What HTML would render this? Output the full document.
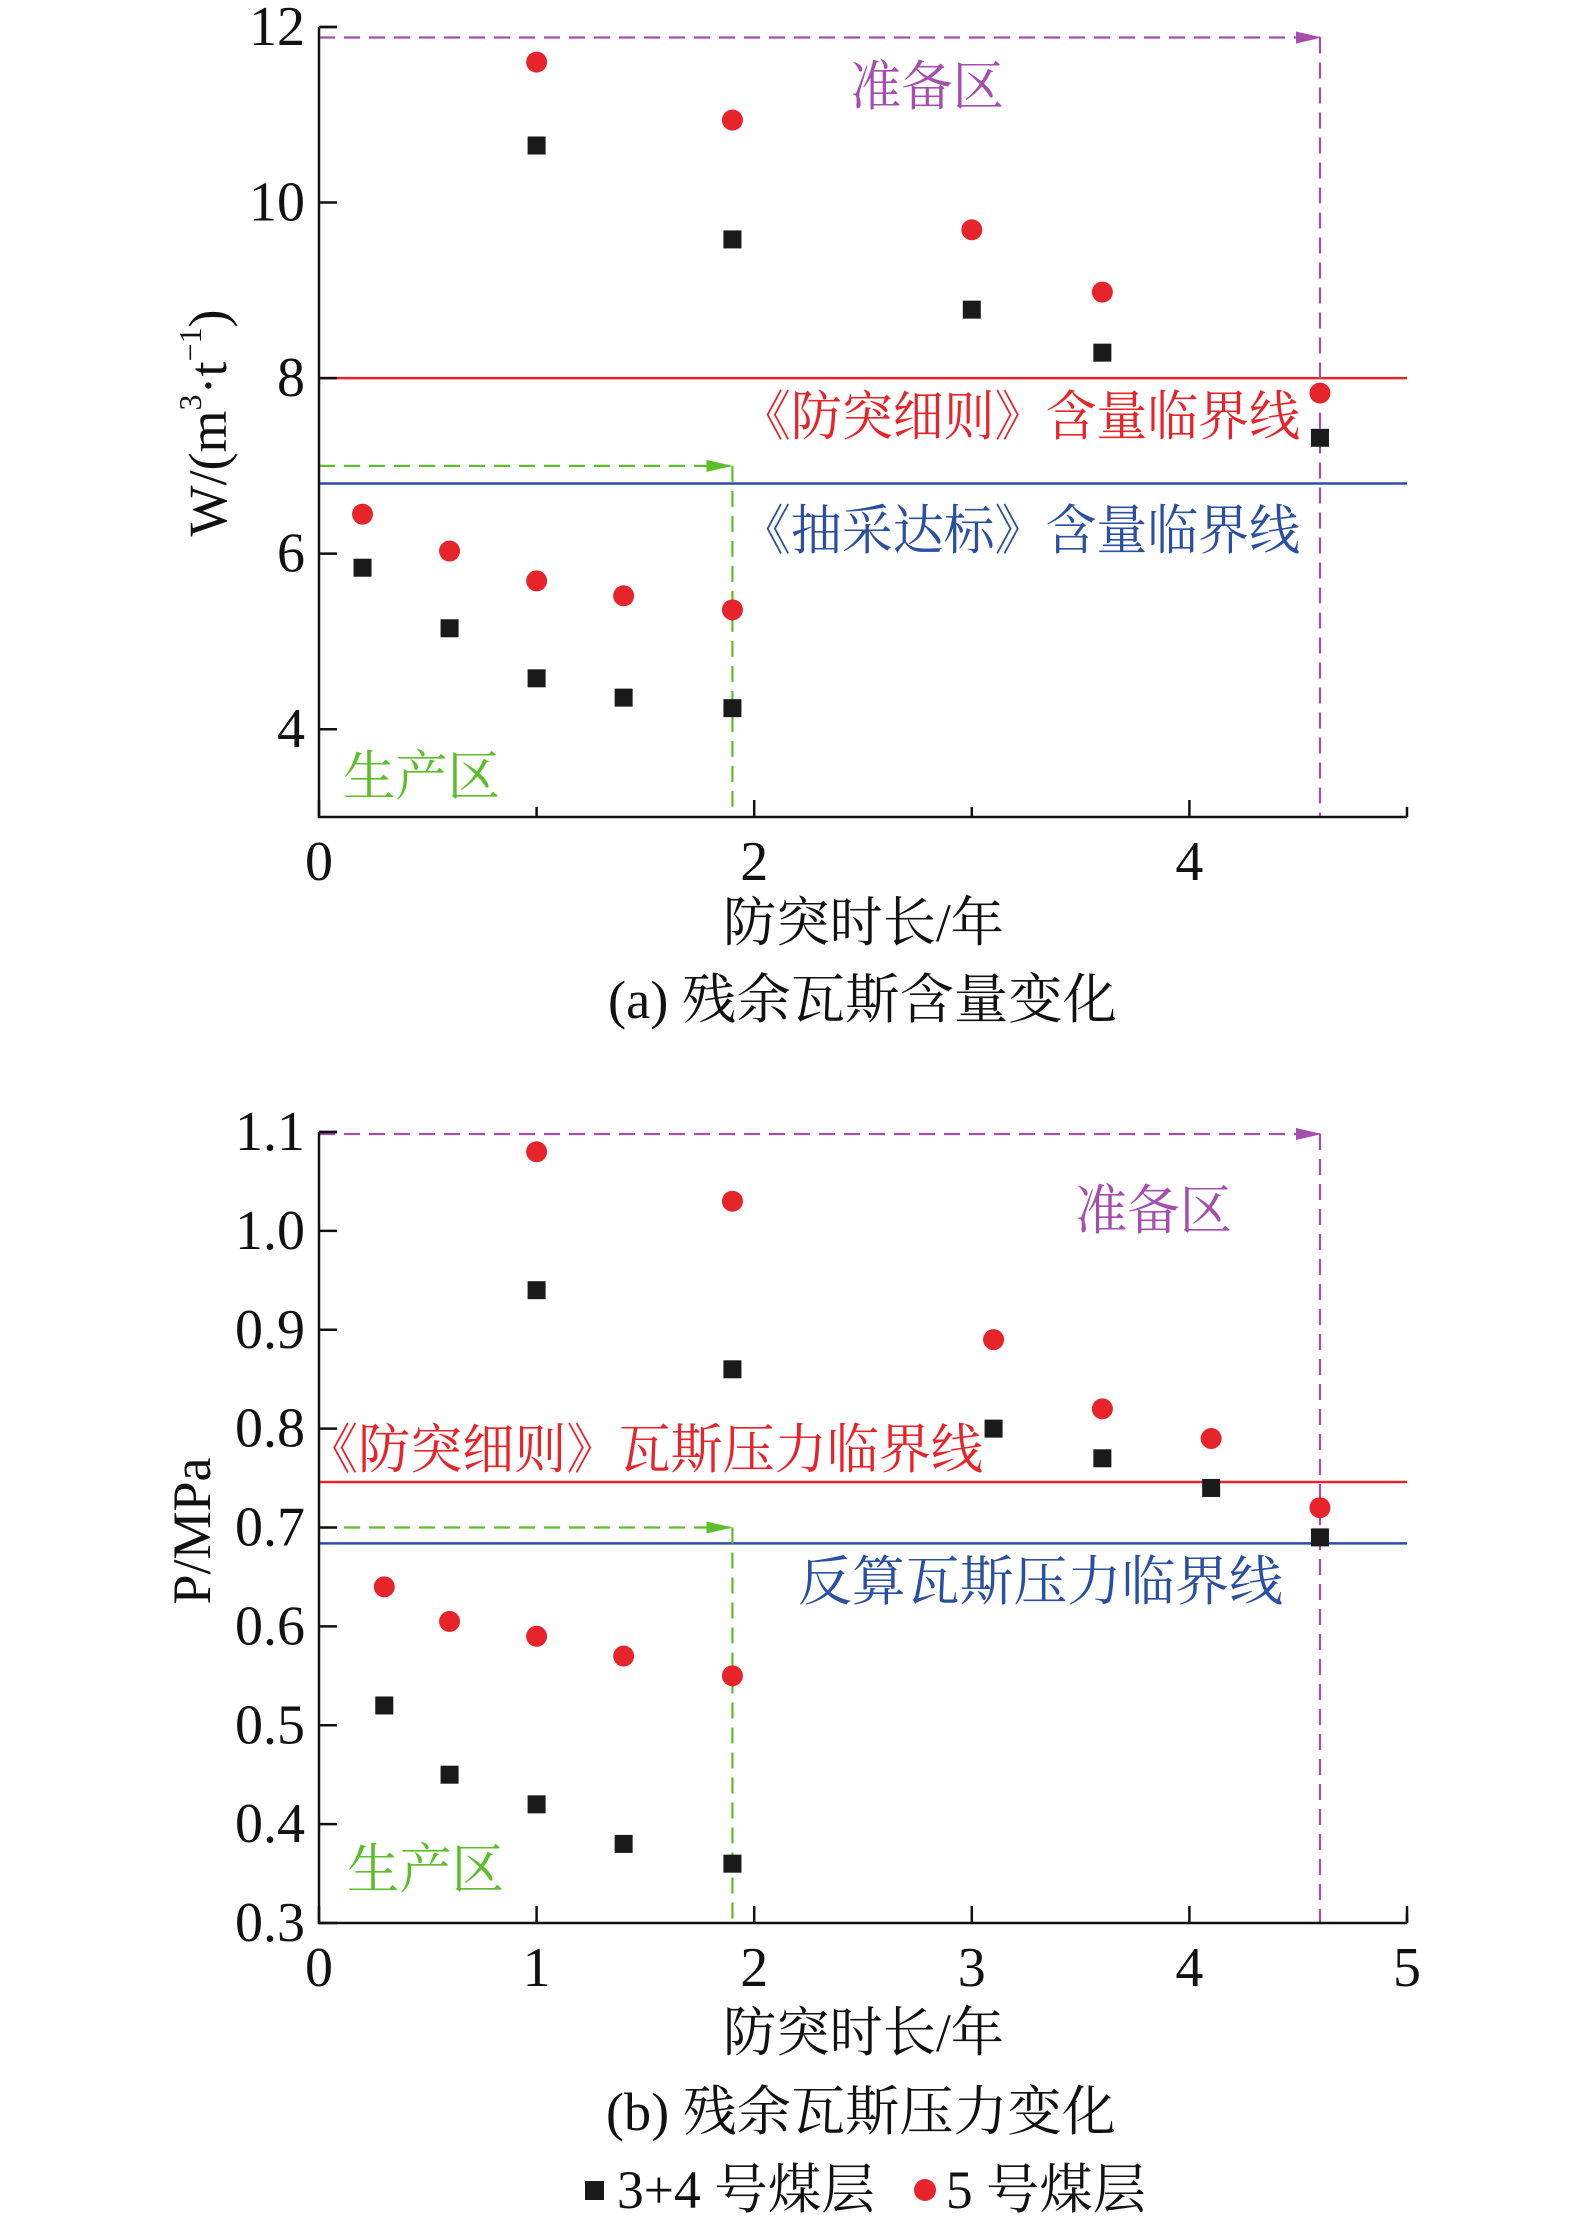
<!DOCTYPE html>
<html><head><meta charset="utf-8">
<style>
html,body{margin:0;padding:0;background:#fff;}
svg{display:block;}
text{font-family:"Liberation Serif","Noto Serif CJK SC",serif;}
</style></head>
<body>
<svg id="chart" width="1575" height="2220" viewBox="0 0 1575 2220" xmlns="http://www.w3.org/2000/svg"></svg>
<script>
// ---- Chart (a) data ----
const aXBlack = [0.2, 0.6, 1.0, 1.0, 1.4, 1.9, 1.9, 3.0, 3.6, 4.6];
const aYBlack = [5.84, 5.15, 10.65, 4.58, 4.36, 9.58, 4.24, 8.78, 8.29, 7.32];
const aXRed = [0.2, 0.6, 1.0, 1.0, 1.4, 1.9, 1.9, 3.0, 3.6, 4.6];
const aYRed = [6.45, 6.03, 11.6, 5.69, 5.52, 10.94, 5.36, 9.69, 8.98, 7.83];
const aYTicks = [4, 6, 8, 10, 12];
const aXTicks = [0, 2, 4];
const aXMinorTicks = [1, 3];
const aRedLine = 8.0;
const aBlueLine = 6.8;
const aGreenArrow = 7.0;
const aPurpleArrow = 11.88;
// ---- Chart (b) data ----
const bXBlack = [0.3, 0.6, 1.0, 1.0, 1.4, 1.9, 1.9, 3.1, 3.6, 4.1, 4.6];
const bYBlack = [0.52, 0.45, 0.94, 0.42, 0.38, 0.86, 0.36, 0.80, 0.77, 0.74, 0.69];
const bXRed = [0.3, 0.6, 1.0, 1.0, 1.4, 1.9, 1.9, 3.1, 3.6, 4.1, 4.6];
const bYRed = [0.64, 0.605, 1.08, 0.59, 0.57, 1.03, 0.55, 0.89, 0.82, 0.79, 0.72];
const bYTicks = [0.3, 0.4, 0.5, 0.6, 0.7, 0.8, 0.9, 1.0, 1.1];
const bYTickLabels = ["0.3","0.4","0.5","0.6","0.7","0.8","0.9","1.0","1.1"];
const bXTicks = [0, 1, 2, 3, 4, 5];
const bRedLine = 0.746;
const bBlueLine = 0.684;
const bGreenArrow = 0.70;
const bPurpleArrow = 1.098;
const zoneX = 1.9;
const prepX = 4.6;

const NS = "http://www.w3.org/2000/svg";
const svg = document.getElementById("chart");
const RED = "#e8242b", BLUE = "#2b4fa3", GREEN = "#5cbf2a", PURPLE = "#a64db0";

function el(tag, attrs, parent, txt) {
  const e = document.createElementNS(NS, tag);
  for (const k in attrs) e.setAttribute(k, attrs[k]);
  if (txt !== undefined) e.textContent = txt;
  (parent || svg).appendChild(e);
  return e;
}

const defs = el("defs", {});
defs.innerHTML = '<marker id="arrG" markerWidth="26" markerHeight="14" refX="24" refY="7" orient="auto" markerUnits="userSpaceOnUse"><path d="M0,1 L26,7 L0,13 Z" fill="'+GREEN+'"/></marker>' +
  '<marker id="arrP" markerWidth="26" markerHeight="14" refX="24" refY="7" orient="auto" markerUnits="userSpaceOnUse"><path d="M0,1 L26,7 L0,13 Z" fill="'+PURPLE+'"/></marker>';

function drawChart(cfg) {
  const g = el("g", {});
  
  
  const X = v => cfg.x0 + (v - 0) / 5 * (cfg.x1 - cfg.x0);
  const Y = v => cfg.yb - (v - cfg.ymin) / (cfg.ymax - cfg.ymin) * (cfg.yb - cfg.yt);

  const rl = el("line", {x1: cfg.x0, x2: cfg.x1, y1: Y(cfg.red), y2: Y(cfg.red), stroke: RED, "stroke-width": 2.5}, g);
  
  
  const bl = el("line", {x1: cfg.x0, x2: cfg.x1, y1: Y(cfg.blue), y2: Y(cfg.blue), stroke: BLUE, "stroke-width": 2.5}, g);
  
  

  const ga = el("line", {x1: cfg.x0, x2: X(zoneX) - 2, y1: Y(cfg.green), y2: Y(cfg.green), stroke: GREEN, "stroke-width": 2.2, "stroke-dasharray": "16,9", "marker-end": "url(#arrG)"}, g);
  
  
  const gv = el("line", {x1: X(zoneX), x2: X(zoneX), y1: Y(cfg.green), y2: cfg.yb, stroke: GREEN, "stroke-width": 2.2, "stroke-dasharray": "16,9"}, g);
  
  
  const pa = el("line", {x1: cfg.x0, x2: X(prepX), y1: Y(cfg.purple), y2: Y(cfg.purple), stroke: PURPLE, "stroke-width": 2.2, "stroke-dasharray": "16,9", "marker-end": "url(#arrP)"}, g);
  
  
  const pv = el("line", {x1: X(prepX), x2: X(prepX), y1: Y(cfg.purple), y2: cfg.yb, stroke: PURPLE, "stroke-width": 2.2, "stroke-dasharray": "16,9"}, g);
  
  

  const ax = el("path", {d: `M${cfg.x0},${cfg.yt} L${cfg.x0},${cfg.yb} L${cfg.x1},${cfg.yb}`, fill: "none", stroke: "#111", "stroke-width": 2.5}, g);
  
  
  const tk = el("line", {x1: cfg.x0, x2: cfg.x0 + 18, y1: cfg.yt, y2: cfg.yt, stroke: "#111", "stroke-width": 2.5}, g);
  
  
  const tkr = el("line", {x1: cfg.x1, x2: cfg.x1, y1: cfg.yb, y2: cfg.yb - 10, stroke: "#111", "stroke-width": 2.5}, g);
  
  

  cfg.yTicks.forEach((v, i) => {
    const t = el("line", {x1: cfg.x0, x2: cfg.x0 + 18, y1: Y(v), y2: Y(v), stroke: "#111", "stroke-width": 2.5}, g);
    
    
    const l = el("text", {x: cfg.x0 - 14, y: Y(v), "font-size": 56, "text-anchor": "end", "dominant-baseline": "central", fill: "#111"}, g, cfg.yLabels[i]);
    
    
  });
  cfg.xTicks.forEach(v => {
    const t = el("line", {x1: X(v), x2: X(v), y1: cfg.yb, y2: cfg.yb - 17, stroke: "#111", "stroke-width": 2.5}, g);
    
    
    const l = el("text", {x: X(v), y: cfg.yb + 45, "font-size": 56, "text-anchor": "middle", "dominant-baseline": "central", fill: "#111"}, g, String(v));
    
    
  });
  (cfg.xMinor || []).forEach(v => {
    const t = el("line", {x1: X(v), x2: X(v), y1: cfg.yb, y2: cfg.yb - 10, stroke: "#111", "stroke-width": 2.5}, g);
    
    
  });

  cfg.bx.forEach((v, i) => {
    const r = el("rect", {x: X(v) - 9, y: Y(cfg.by[i]) - 9, width: 18, height: 18, fill: "#1a1a1a"}, g);
    
    
  });
  cfg.rx.forEach((v, i) => {
    const c = el("circle", {cx: X(v), cy: Y(cfg.ry[i]), r: 10.5, fill: RED}, g);
    
    
  });
  return {X, Y, g};
}

function label(txt, x, y, color, size, name, len) {
  const a = {x: x, y: y, "font-size": size, fill: color, "dominant-baseline": "central"};
  if (len) { a.textLength = len; a.lengthAdjust = "spacingAndGlyphs"; }
  const t = el("text", a, svg, txt);
  
  
  return t;
}

// Chart a
drawChart({name: "chart-a-gas-content", x0: 319, x1: 1407, yt: 27, yb: 817, ymin: 3, ymax: 12,
  red: aRedLine, blue: aBlueLine, green: aGreenArrow, purple: aPurpleArrow,
  yTicks: aYTicks, yLabels: aYTicks.map(String), xTicks: aXTicks, xMinor: aXMinorTicks,
  bx: aXBlack, by: aYBlack, rx: aXRed, ry: aYRed});
label("准备区", 850, 87, PURPLE, 54, "preparation-zone-label", 154);
label("《防突细则》含量临界线", 740, 417, RED, 54, "red-line-label", 560);
label("《抽采达标》含量临界线", 740, 531, BLUE, 54, "blue-line-label", 560);
label("生产区", 343, 777, GREEN, 54, "production-zone-label", 157);
label("防突时长/年", 723, 923, "#111", 54, "x-axis-title", 281);
label("(a) 残余瓦斯含量变化", 608, 1000, "#111", 54, "caption-a", 509);
{
  const t = el("text", {x: 0, y: 0, "font-size": 54, fill: "#111", "text-anchor": "middle", "dominant-baseline": "central", transform: "translate(208,423) rotate(-90)"});
  
  
  t.innerHTML = 'W/(m<tspan baseline-shift="super" font-size="32">3</tspan>·t<tspan baseline-shift="super" font-size="32">−1</tspan>)';
}

// Chart b
drawChart({name: "chart-b-gas-pressure", x0: 319, x1: 1407, yt: 1132, yb: 1923, ymin: 0.3, ymax: 1.1,
  red: bRedLine, blue: bBlueLine, green: bGreenArrow, purple: bPurpleArrow,
  yTicks: bYTicks, yLabels: bYTickLabels, xTicks: bXTicks,
  bx: bXBlack, by: bYBlack, rx: bXRed, ry: bYRed});
label("准备区", 1075, 1211, PURPLE, 54, "preparation-zone-label", 157);
label("《防突细则》瓦斯压力临界线", 306, 1450, RED, 54, "red-line-label", 677);
label("反算瓦斯压力临界线", 798, 1582, BLUE, 54, "blue-line-label", 485);
label("生产区", 347, 1870, GREEN, 54, "production-zone-label", 157);
label("防突时长/年", 723, 2033, "#111", 54, "x-axis-title", 281);
label("(b) 残余瓦斯压力变化", 606, 2112, "#111", 54, "caption-b", 510);
{
  const t = el("text", {x: 0, y: 0, "font-size": 54, fill: "#111", "text-anchor": "middle", "dominant-baseline": "central", transform: "translate(192,1531) rotate(-90)"}, svg, "P/MPa");
  
  
}

// Legend
{
  const lg = el("g", {});
  
  
  const s = el("rect", {x: 585, y: 2181, width: 19, height: 19, fill: "#1a1a1a"}, lg);
  
  
  const t1 = el("text", {x: 617, y: 2190, "font-size": 54, fill: "#111", "dominant-baseline": "central", textLength: 258, lengthAdjust: "spacingAndGlyphs"}, lg, "3+4 号煤层");
  
  
  const c = el("circle", {cx: 925, cy: 2190, r: 11, fill: RED}, lg);
  
  
  const t2 = el("text", {x: 946, y: 2190, "font-size": 54, fill: "#111", "dominant-baseline": "central", textLength: 200, lengthAdjust: "spacingAndGlyphs"}, lg, "5 号煤层");
  
  
}
</script>
</body></html>
